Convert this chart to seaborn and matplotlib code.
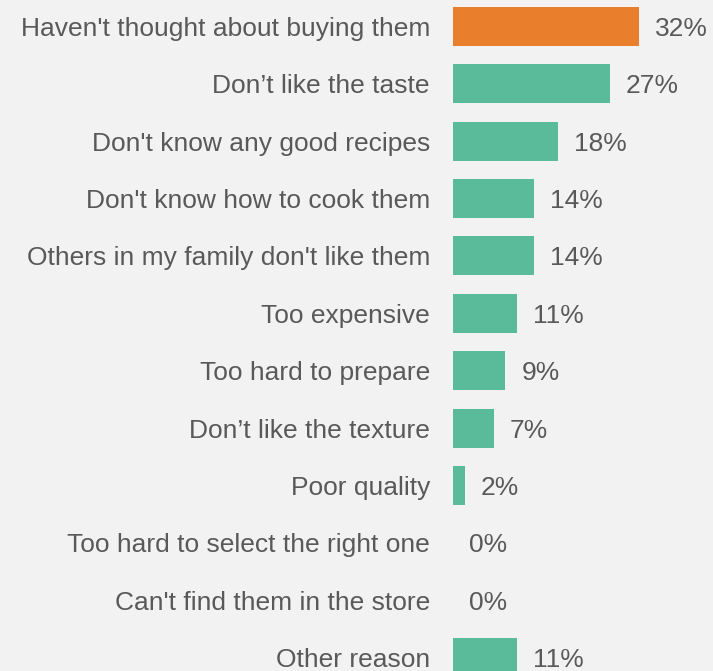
import matplotlib
matplotlib.use("Agg")
import matplotlib.pyplot as plt
import seaborn as sns
import pandas as pd

reasons = [
    "Haven't thought about buying them",
    "Don\u2019t like the taste",
    "Don't know any good recipes",
    "Don't know how to cook them",
    "Others in my family don't like them",
    "Too expensive",
    "Too hard to prepare",
    "Don\u2019t like the texture",
    "Poor quality",
    "Too hard to select the right one",
    "Can't find them in the store",
    "Other reason",
]
shares = [32, 27, 18, 14, 14, 11, 9, 7, 2, 0, 0, 11]
groups = ["top"] + ["rest"] * (len(reasons) - 1)

df = pd.DataFrame({"reason": reasons, "share": shares, "group": groups})

sns.set_theme(style="white")
plt.rcParams["font.family"] = ["Liberation Sans", "DejaVu Sans"]

bg = "#f2f2f2"
text_col = "#595959"
palette = {"top": "#e97f2d", "rest": "#59bb9a"}
fsize = 19

fig = plt.figure(figsize=(7.13, 6.71), dpi=100, facecolor=bg)
ax = fig.add_axes([453 / 713, 0, 260 / 713, 1])
ax.set_facecolor(bg)

sns.barplot(data=df, y="reason", x="share", hue="group", palette=palette,
            orient="h", width=0.68, dodge=False, legend=False, ax=ax,
            linewidth=0, saturation=1)

px_per_unit = 5.81
ax.set_xlim(0, 260 / px_per_unit)
pitch = 57.36
ax.set_ylim(11 + (671 - 657.5) / pitch, -26.5 / pitch)

for i, v in enumerate(shares):
    ax.text(v + 16 / px_per_unit, i, f"{v}%", va="center_baseline", ha="left",
            fontsize=fsize, color=text_col)

ax.set_xlabel("")
ax.set_ylabel("")
ax.set_xticks([])
ax.tick_params(axis="y", length=0, pad=23 * 0.72, labelsize=fsize,
               labelcolor=text_col)
for s in ax.spines.values():
    s.set_visible(False)

fig.savefig("out.png", dpi=100, facecolor=bg)
